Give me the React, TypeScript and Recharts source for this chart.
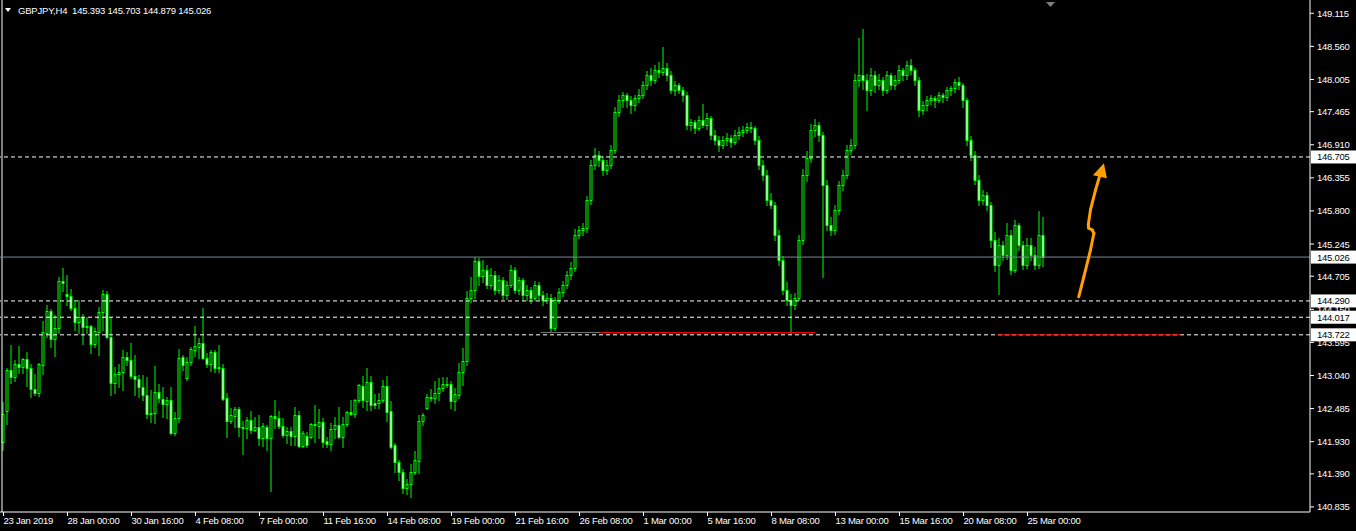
import React from 'react';
import { ComposedChart, Bar, XAxis, YAxis, ReferenceLine, ReferenceDot } from 'recharts';

const symbol = 'GBPJPY,H4';
// open, high, low, close of the last (current) bar, shown in the header
const lastQuote = [145.393, 145.703, 144.879, 145.026];

const timeLabels = [
  '23 Jan 2019', '28 Jan 00:00', '30 Jan 16:00', '4 Feb 08:00', '7 Feb 00:00',
  '11 Feb 16:00', '14 Feb 08:00', '19 Feb 00:00', '21 Feb 16:00', '26 Feb 08:00',
  '1 Mar 00:00', '5 Mar 16:00', '8 Mar 08:00', '13 Mar 00:00', '15 Mar 16:00',
  '20 Mar 08:00', '25 Mar 00:00',
];
// bar index under each time label (one label every 16 H4 bars)
const timeLabelBars = [0, 16, 32, 48, 64, 80, 96, 112, 128, 144, 160, 176, 192, 208, 224, 240, 256];

const priceTicks = [
  149.115, 148.56, 148.005, 147.465, 146.91, 146.355, 145.8, 145.245,
  144.705, 144.15, 143.595, 143.04, 142.485, 141.93, 141.39, 140.835,
];

const levels = [146.705, 144.29, 144.017, 143.722];
const bidPrice = 145.026;

// [fromBar, toBar, price, colour]
const trendLines: [number, number, number, string][] = [
  [134.25, 149.25, 143.76, '#7a7a7a'],
  [149.25, 203, 143.76, '#ff0000'],
  [248.5, 294.25, 143.722, '#ff0000'],
];

// hand-drawn arrow: [bar, price] points, tip last
const arrowPath = [
  [268.8, 144.36], [270.1, 144.7], [271.75, 145.145], [272.6, 145.425],
  [272.2, 145.48], [271.3, 145.51], [271.2, 145.57], [271.75, 145.82],
  [273.0, 146.15], [274.1, 146.4],
];
const arrowTip = [275.1, 146.6];

// H4 bars: [open, high, low, close]
const ohlc: number[][] = [
  [141.92, 142.6, 141.79, 142.39], [142.44, 143.17, 142.23, 143.13], [143.13, 143.55, 142.91, 143.01], [143.01, 143.3, 142.95, 143.23],
  [143.23, 143.53, 143.08, 143.18], [143.18, 143.33, 143.08, 143.32], [143.32, 143.43, 142.86, 143.17], [143.17, 143.23, 142.68, 142.81],
  [142.81, 143.07, 142.71, 142.75], [142.75, 143.25, 142.7, 143.23], [143.22, 143.95, 143.07, 143.77], [143.75, 144.22, 143.69, 144.12],
  [144.12, 144.16, 143.52, 143.65], [143.65, 144.05, 143.37, 143.84], [143.84, 144.69, 143.75, 144.62], [144.62, 144.84, 144.46, 144.59],
  [144.41, 144.73, 144.22, 144.37], [144.37, 144.49, 144.14, 144.17], [144.17, 144.27, 143.8, 143.94], [143.94, 144.31, 143.75, 144.02],
  [144.02, 144.07, 143.57, 143.85], [143.85, 144.02, 143.75, 143.87], [143.87, 143.89, 143.42, 143.57], [143.57, 143.84, 143.52, 143.79],
  [143.77, 144.19, 143.38, 144.1], [144.1, 144.47, 143.8, 144.41], [144.41, 144.46, 143.67, 143.69], [143.69, 144.02, 142.71, 142.91],
  [142.91, 143.18, 142.75, 143.07], [143.07, 143.23, 142.85, 143.1], [143.1, 143.47, 142.8, 143.35], [143.35, 143.43, 143.22, 143.3],
  [143.3, 143.58, 142.99, 143.03], [143.03, 143.38, 142.71, 142.98], [142.98, 143.05, 142.68, 142.85], [142.85, 143.05, 142.63, 142.71],
  [142.71, 143.02, 142.33, 142.39], [142.39, 142.8, 142.26, 142.41], [142.41, 143.2, 142.24, 142.76], [142.76, 142.9, 142.6, 142.66],
  [142.65, 142.85, 142.34, 142.56], [142.56, 142.68, 142.33, 142.63], [142.63, 142.85, 142.06, 142.08], [142.08, 142.43, 142.04, 142.33],
  [142.33, 143.48, 142.26, 143.33], [143.35, 143.38, 143.13, 143.22], [142.99, 143.35, 142.96, 143.27], [143.27, 143.52, 143.22, 143.48],
  [143.47, 143.87, 143.37, 143.53], [143.52, 143.67, 143.33, 143.58], [143.58, 144.17, 143.32, 143.33], [143.33, 143.42, 143.18, 143.23],
  [143.23, 143.47, 143.12, 143.43], [143.43, 143.47, 143.1, 143.17], [143.18, 143.55, 143.1, 143.17], [143.17, 143.23, 142.63, 142.65],
  [142.66, 142.75, 142.01, 142.28], [142.28, 142.5, 142.24, 142.38], [142.36, 142.51, 142.18, 142.48], [142.48, 142.51, 142.02, 142.18],
  [142.18, 142.28, 141.72, 142.16], [142.16, 142.34, 141.99, 142.29], [142.29, 142.45, 142.07, 142.13], [142.13, 142.34, 142.11, 142.18],
  [142.18, 142.38, 141.87, 141.99], [141.99, 142.24, 141.86, 142.19], [142.18, 142.21, 141.79, 141.99], [141.99, 142.38, 141.1, 142.36],
  [142.36, 142.63, 142.16, 142.33], [142.33, 142.45, 142.16, 142.19], [142.19, 142.33, 142.01, 142.04], [142.04, 142.18, 141.91, 142.11],
  [142.11, 142.18, 141.87, 142.02], [142.02, 142.51, 141.87, 142.38], [142.38, 142.45, 141.84, 141.86], [141.86, 142.11, 141.84, 142.08],
  [142.02, 142.09, 141.84, 141.87], [142.01, 142.24, 141.99, 142.23], [142.23, 142.55, 141.92, 142.21], [142.19, 142.48, 141.99, 142.26],
  [142.26, 142.33, 141.84, 141.92], [141.94, 142.01, 141.84, 141.89], [141.89, 142.24, 141.79, 142.14], [142.14, 142.34, 141.99, 142.21],
  [142.21, 142.51, 141.99, 142.01], [142.01, 142.34, 141.84, 142.23], [142.23, 142.45, 142.19, 142.43], [142.43, 142.63, 142.38, 142.39],
  [142.39, 142.65, 142.34, 142.63], [142.63, 142.9, 142.6, 142.88], [142.86, 143.03, 142.51, 142.63], [142.61, 143.17, 142.46, 142.93],
  [142.93, 143.03, 142.46, 142.54], [142.58, 142.73, 142.49, 142.54], [142.58, 142.75, 142.49, 142.63], [142.63, 142.96, 142.6, 142.86],
  [142.86, 143.03, 142.28, 142.43], [142.44, 142.61, 141.82, 141.84], [141.87, 141.91, 141.42, 141.59], [141.59, 141.62, 141.29, 141.42],
  [141.42, 141.47, 141.07, 141.15], [141.15, 141.3, 141.05, 141.22], [141.22, 141.55, 141.0, 141.42], [141.42, 141.77, 141.39, 141.62],
  [141.61, 142.38, 141.4, 142.28], [142.28, 142.41, 142.21, 142.38], [142.5, 142.73, 142.48, 142.68], [142.68, 142.81, 142.61, 142.66],
  [142.66, 142.95, 142.58, 142.75], [142.75, 143.0, 142.63, 142.83], [142.83, 143.02, 142.78, 142.9], [142.9, 143.02, 142.85, 142.89],
  [142.9, 142.95, 142.5, 142.61], [142.61, 142.83, 142.46, 142.73], [142.71, 143.25, 142.66, 143.1], [143.1, 143.5, 142.88, 143.28],
  [143.28, 144.46, 143.22, 144.34], [144.34, 144.69, 144.27, 144.47], [144.47, 145.03, 144.34, 144.96], [144.96, 145.01, 144.56, 144.71],
  [144.71, 144.98, 144.6, 144.81], [144.81, 144.9, 144.5, 144.56], [144.56, 144.85, 144.5, 144.73], [144.73, 144.8, 144.4, 144.47],
  [144.47, 144.72, 144.42, 144.64], [144.64, 144.7, 144.33, 144.39], [144.39, 144.62, 144.32, 144.56], [144.56, 144.9, 144.52, 144.81],
  [144.81, 144.86, 144.42, 144.47], [144.47, 144.7, 144.4, 144.64], [144.64, 144.68, 144.3, 144.39], [144.39, 144.55, 144.3, 144.47],
  [144.47, 144.52, 144.25, 144.34], [144.34, 144.62, 144.3, 144.56], [144.56, 144.6, 144.33, 144.39], [144.39, 144.45, 144.22, 144.31],
  [144.31, 144.42, 144.26, 144.34], [144.34, 144.4, 143.78, 143.84], [143.84, 144.36, 143.8, 144.31], [144.31, 144.5, 144.25, 144.44],
  [144.44, 144.62, 144.38, 144.56], [144.56, 144.8, 144.5, 144.73], [144.73, 144.95, 144.66, 144.84], [144.84, 145.5, 144.8, 145.4],
  [145.4, 145.55, 145.35, 145.48], [145.48, 145.6, 145.4, 145.51], [145.51, 146.05, 145.45, 145.98], [145.98, 146.65, 145.92, 146.57],
  [146.57, 146.85, 146.5, 146.74], [146.74, 146.8, 146.55, 146.65], [146.65, 146.72, 146.4, 146.49], [146.49, 146.65, 146.42, 146.57],
  [146.57, 146.9, 146.52, 146.82], [146.82, 147.55, 146.78, 147.46], [147.46, 147.75, 147.4, 147.66], [147.66, 147.8, 147.55, 147.74],
  [147.74, 147.78, 147.55, 147.66], [147.66, 147.72, 147.45, 147.58], [147.58, 147.75, 147.5, 147.69], [147.69, 147.85, 147.62, 147.74],
  [147.74, 147.98, 147.7, 147.91], [147.91, 148.15, 147.85, 148.08], [148.08, 148.2, 147.92, 148.0], [148.0, 148.25, 147.95, 148.16],
  [148.16, 148.3, 148.05, 148.13], [148.13, 148.55, 148.08, 148.2], [148.2, 148.28, 148.0, 148.08], [148.08, 148.15, 147.78, 147.83],
  [147.83, 147.98, 147.75, 147.91], [147.91, 147.95, 147.78, 147.83], [147.83, 147.88, 147.65, 147.74], [147.74, 147.8, 147.18, 147.24],
  [147.24, 147.35, 147.15, 147.29], [147.29, 147.32, 147.1, 147.19], [147.19, 147.4, 147.15, 147.33], [147.33, 147.6, 147.2, 147.24],
  [147.24, 147.45, 147.18, 147.36], [147.36, 147.4, 147.0, 147.07], [147.07, 147.15, 146.92, 146.99], [146.99, 147.05, 146.8, 146.91],
  [146.91, 147.05, 146.85, 146.99], [146.99, 147.1, 146.9, 147.02], [147.02, 147.08, 146.88, 146.96], [146.96, 147.15, 146.92, 147.07],
  [147.07, 147.2, 147.0, 147.12], [147.12, 147.22, 147.05, 147.16], [147.16, 147.28, 147.1, 147.21], [147.21, 147.3, 147.12, 147.19],
  [147.19, 147.22, 146.92, 146.99], [146.99, 147.05, 146.5, 146.57], [146.57, 146.65, 146.32, 146.4], [146.4, 146.48, 145.9, 145.98],
  [145.98, 146.1, 145.85, 145.9], [145.9, 145.95, 145.32, 145.4], [145.4, 145.48, 144.9, 144.98], [144.98, 145.05, 144.4, 144.47],
  [144.47, 144.6, 144.22, 144.31], [144.31, 144.4, 143.75, 144.22], [144.22, 144.42, 144.15, 144.34], [144.34, 145.4, 144.3, 145.31],
  [145.31, 146.5, 145.25, 146.4], [146.4, 146.8, 146.3, 146.69], [146.69, 147.25, 146.62, 147.16], [147.16, 147.35, 147.05, 147.24],
  [147.24, 147.3, 146.98, 147.07], [147.07, 147.12, 144.7, 146.24], [146.24, 146.32, 145.48, 145.56], [145.56, 145.7, 145.4, 145.48],
  [145.48, 145.9, 145.42, 145.82], [145.82, 146.3, 145.75, 146.24], [146.24, 146.48, 146.15, 146.4], [146.4, 146.9, 146.35, 146.82],
  [146.82, 147.0, 146.75, 146.91], [146.91, 148.1, 146.85, 148.0], [148.0, 148.7, 147.9, 148.08], [148.08, 148.85, 147.85, 148.0],
  [148.0, 148.1, 147.5, 147.83], [147.83, 148.2, 147.75, 148.08], [148.08, 148.15, 147.8, 147.91], [147.91, 148.1, 147.85, 148.0],
  [148.0, 148.05, 147.75, 147.83], [147.83, 148.15, 147.78, 148.08], [148.08, 148.12, 147.85, 147.91], [147.91, 148.08, 147.85, 148.0],
  [148.0, 148.25, 147.95, 148.16], [148.16, 148.2, 148.0, 148.08], [148.08, 148.32, 148.02, 148.25], [148.25, 148.35, 148.1, 148.16],
  [148.16, 148.2, 147.92, 148.0], [148.0, 148.05, 147.4, 147.49], [147.49, 147.65, 147.42, 147.58], [147.58, 147.72, 147.5, 147.66],
  [147.66, 147.75, 147.6, 147.69], [147.69, 147.72, 147.55, 147.66], [147.66, 147.8, 147.62, 147.74], [147.74, 147.78, 147.62, 147.71],
  [147.71, 147.88, 147.66, 147.83], [147.83, 147.9, 147.75, 147.86], [147.86, 148.02, 147.8, 147.96], [147.96, 148.05, 147.85, 147.91],
  [147.91, 147.95, 147.55, 147.66], [147.66, 147.7, 146.9, 146.99], [146.99, 147.05, 146.65, 146.74], [146.74, 146.8, 146.25, 146.32],
  [146.32, 146.4, 145.9, 145.98], [145.98, 146.15, 145.92, 146.07], [146.07, 146.12, 145.82, 145.9], [145.9, 145.95, 145.2, 145.31],
  [145.31, 145.45, 144.8, 144.89], [144.89, 145.35, 144.4, 145.23], [145.23, 145.3, 144.98, 145.06], [145.06, 145.6, 145.0, 145.4],
  [145.4, 145.48, 144.75, 144.81], [144.81, 145.65, 144.78, 145.56], [145.56, 145.6, 145.15, 145.23], [145.23, 145.3, 144.82, 144.89],
  [144.89, 145.35, 144.85, 145.23], [145.23, 145.35, 144.98, 145.06], [145.06, 145.2, 144.82, 144.89], [144.89, 145.8, 144.85, 145.39],
  [145.393, 145.703, 144.879, 145.026],
];

const W = 1356;
const H = 531;
const LIME = '#00ff00';
const FONT = '"Liberation Sans", Arial, sans-serif';

const data = ohlc.map(([o, h, l, c], i) => ({ i, o, h, l, c, range: [l, h] }));

function Candle(props: any) {
  const { x, y, width, height, payload } = props;
  if (x == null || y == null) return null;
  const { o, h, l, c } = payload;
  const cx = x + width / 2;
  const span = h - l || 1;
  const toY = (p: number) => y + ((h - p) / span) * height;
  const top = Math.round(y);
  const bottom = Math.round(y + height);
  const bodyTop = Math.round(toY(Math.max(o, c)));
  const bodyBottom = Math.max(bodyTop + 1, Math.round(toY(Math.min(o, c))));
  const bull = c >= o;
  return (
    <g>
      <line x1={cx} x2={cx} y1={top} y2={bottom + 1} stroke={LIME} strokeWidth={1} />
      <rect x={cx - 1.5} y={bodyTop} width={3} height={bodyBottom - bodyTop + 1} fill={LIME} />
      {bodyBottom - bodyTop >= 2 && (
        <rect x={cx - 0.5} y={bodyTop + 1} width={1} height={bodyBottom - bodyTop - 1} fill={bull ? '#000' : '#fff'} />
      )}
    </g>
  );
}

function TimeTick(props: any) {
  const { x, y, payload } = props;
  const label = timeLabels[timeLabelBars.indexOf(payload.value)];
  return (
    <g>
      <line x1={x} x2={x} y1={y} y2={y + 4} stroke="#fff" />
      <text x={x} y={y + 12} fill="#fff" fontSize={9.5} letterSpacing={-0.25} fontFamily={FONT} textAnchor="start">
        {label}
      </text>
    </g>
  );
}

function PriceTick(props: any) {
  const { x, y, payload } = props;
  return (
    <g>
      <line x1={x} x2={x + 4} y1={y} y2={y} stroke="#fff" />
      <text x={x + 7} y={y + 3.5} fill="#fff" fontSize={9.5} letterSpacing={-0.25} fontFamily={FONT}>
        {payload.value.toFixed(3)}
      </text>
    </g>
  );
}

// white price box on the right scale for a horizontal level
const levelBox = (price: number) => (p: any) => {
  const { viewBox } = p;
  const bx = viewBox.x + viewBox.width + 1;
  const by = viewBox.y;
  return (
    <g>
      <rect x={bx} y={by - 6.5} width={45} height={13} fill="#fff" />
      <text x={bx + 6} y={by + 3.5} fill="#000" fontSize={9.5} letterSpacing={-0.25} fontFamily={FONT}>
        {price.toFixed(3)}
      </text>
    </g>
  );
};

function ArrowHead(props: any) {
  const { cx, cy } = props;
  if (cx == null) return null;
  return <polygon points={`${cx},${cy} ${cx - 11},${cy + 12} ${cx + 3},${cy + 15}`} fill="#ffa000" />;
}

export default function App() {
  return (
    <div style={{ position: 'absolute', left: 0, top: 0, width: W, height: H, background: '#000', overflow: 'hidden' }}>
      <ComposedChart width={W} height={H} data={data} margin={{ top: 0, right: 0, bottom: 0, left: 0 }}>
        <XAxis
          dataKey="i"
          type="number"
          domain={[-0.875, 326.625]}
          allowDataOverflow
          ticks={timeLabelBars}
          interval={0}
          height={19}
          tickSize={0}
          tickMargin={0}
          axisLine={{ stroke: '#fff' }}
          tickLine={false}
          tick={<TimeTick />}
        />
        <YAxis
          orientation="right"
          type="number"
          domain={[140.75, 149.338]}
          allowDataOverflow
          ticks={priceTicks}
          interval={0}
          width={46}
          tickSize={0}
          tickMargin={0}
          axisLine={{ stroke: '#fff' }}
          tickLine={false}
          tick={<PriceTick />}
        />
        <ReferenceLine x={-0.375} stroke="#fff" />
        <ReferenceLine y={bidPrice} stroke="#778899" label={levelBox(bidPrice)} />
        {levels.map((lv) => (
          <ReferenceLine key={lv} y={lv} stroke="#fff" strokeDasharray="4 3" label={levelBox(lv)} />
        ))}
        {trendLines.map(([a, b, p, col], k) => (
          <ReferenceLine key={`t${k}`} segment={[{ x: a, y: p }, { x: b, y: p }]} stroke={col} />
        ))}
        <Bar dataKey="range" barSize={3} shape={<Candle />} isAnimationActive={false} />
        {arrowPath.slice(1).map((pt, k) => (
          <ReferenceLine
            key={`a${k}`}
            segment={[{ x: arrowPath[k][0], y: arrowPath[k][1] }, { x: pt[0], y: pt[1] }]}
            stroke="#ffa000"
            strokeWidth={3}
            strokeLinecap="round"
          />
        ))}
        <ReferenceDot x={arrowTip[0]} y={arrowTip[1]} r={0} shape={<ArrowHead />} />
      </ComposedChart>
      <svg style={{ position: 'absolute', left: 0, top: 0 }} width={W} height={20}>
        <polygon points="5,8 11,8 8,12" fill="#fff" />
        <polygon points="1046,2 1055,2 1050.5,7" fill="#808080" />
        <text x={18} y={14} fill="#fff" fontSize={9.5} letterSpacing={-0.2} fontFamily={FONT} xmlSpace="preserve">
          {`${symbol}  ${lastQuote.map((v) => v.toFixed(3)).join(' ')}`}
        </text>
      </svg>
    </div>
  );
}
